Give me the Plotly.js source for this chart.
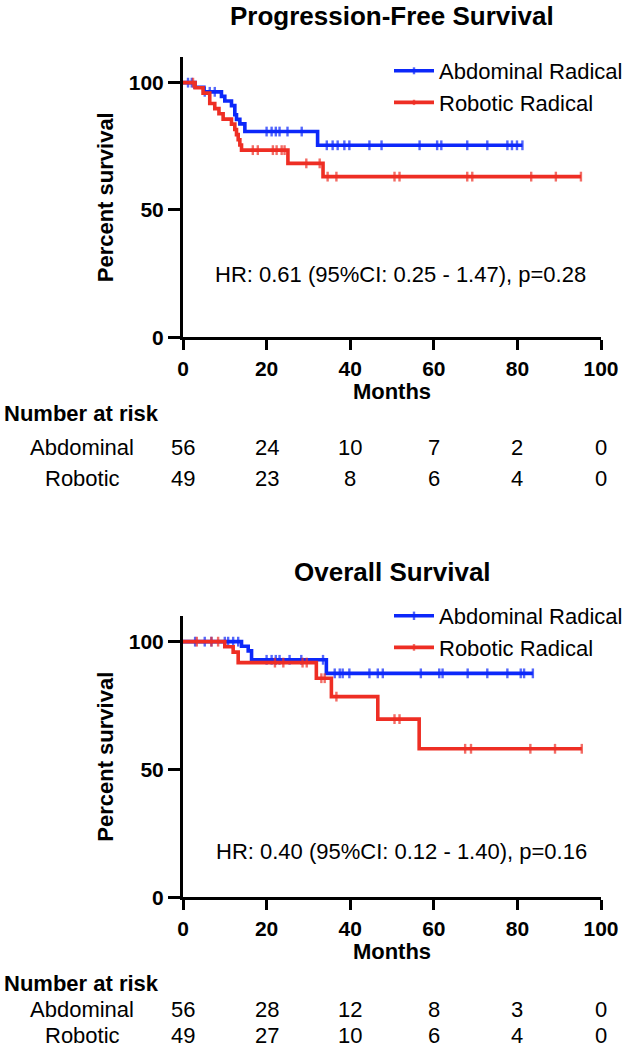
<!DOCTYPE html>
<html>
<head>
<meta charset="utf-8">
<script src="https://cdn.plot.ly/plotly-3.0.1.min.js"></script>
<style>
  body { margin: 0; background: #fff; }
  #graph { width: 631px; height: 1050px; }
</style>
</head>
<body>
<div id="graph"></div>
<script>
var blue = 'rgb(12, 40, 250)';
var red = 'rgb(238, 46, 36)';
var fontFam = 'Liberation Sans, Arial, sans-serif';

// progression-free survival: step times (months) and survival (%) after each step, plus censored times
var pfsAbdTimes = [0, 2.9, 5.0, 9.2, 10.0, 11.6, 12.4, 12.8, 13.6, 14.8, 32.2];
var pfsAbdSurv = [100, 98.2, 96.4, 94.6, 92.8, 91.0, 87.4, 85.6, 83.8, 80.8, 75.4];
var pfsAbdCensor = [1.2, 2.1, 5.2, 6.4, 7.6, 20.0, 21.2, 22.2, 23.1, 25.0, 28.4, 34.4, 35.8, 37.0, 38.6, 39.8,
    44.6, 47.5, 56.6, 60.8, 61.8, 68.0, 72.8, 77.6, 78.7, 79.9, 81.2];
var pfsRobTimes = [0, 2.9, 4.8, 6.4, 7.6, 8.6, 9.6, 11.6, 12.4, 12.8, 13.2, 13.6, 14.0, 25.1, 33.5];
var pfsRobSurv = [100, 98.0, 95.9, 91.8, 89.8, 87.8, 85.7, 83.7, 81.6, 79.6, 77.6, 75.5, 73.5, 68.3, 63.1];
var pfsRobCensor = [2.4, 16.7, 17.9, 21.5, 22.4, 23.6, 24.3, 29.5, 32.7, 34.6, 36.7, 50.6, 51.8, 68.0, 69.2,
    83.3, 89.2, 95.2];

// overall survival
var osAbdTimes = [0, 14.0, 15.6, 16.4, 34.3];
var osAbdSurv = [100, 98.2, 96.4, 92.9, 87.6];
var osAbdCensor = [2.9, 5.2, 6.8, 10.0, 10.8, 12.0, 13.2, 20.0, 21.2, 22.2, 23.1, 25.5, 28.3, 33.5, 36.3, 37.5,
    38.2, 39.8, 44.6, 46.6, 47.8, 56.9, 61.3, 62.1, 68.1, 72.8, 77.6, 80.8, 81.6, 83.7];
var osRobTimes = [0, 10.0, 12.0, 13.2, 31.9, 35.5, 46.6, 56.5];
var osRobSurv = [100, 98.0, 95.9, 91.8, 85.7, 78.5, 69.7, 58.1];
var osRobCensor = [3.3, 6.8, 8.4, 22.0, 24.0, 28.6, 29.6, 33.1, 33.9, 36.7, 50.6, 51.8, 67.5, 68.9, 83.1, 89.0, 95.4];

// number at risk tables
var riskMonths = [0, 20, 40, 60, 80, 100];
var pfsRiskAbd = [56, 24, 10, 7, 2, 0];
var pfsRiskRob = [49, 23, 8, 6, 4, 0];
var osRiskAbd = [56, 28, 12, 8, 3, 0];
var osRiskRob = [49, 27, 10, 6, 4, 0];

var groupNames = ['Abdominal Radical', 'Robotic Radical'];
var rowNames = ['Abdominal', 'Robotic'];
var hrTexts = ['HR: 0.61 (95%CI: 0.25 - 1.47), p=0.28', 'HR: 0.40 (95%CI: 0.12 - 1.40), p=0.16'];
var plotTitles = ['Progression-Free Survival', 'Overall Survival'];

/* builds one Kaplan-Meier step line, censored points get a small vertical tick */
function kmTrace(times, surv, censor, name, color, xa, ya, legend) {
    var pts = [];
    var i, k;
    for (i = 0; i < times.length; i++) {
        pts.push({t: times[i], s: surv[i], c: false});
    }
    for (i = 0; i < censor.length; i++) {
        var lvl = surv[0];
        for (k = 0; k < times.length; k++) {
            if (times[k] <= censor[i]) lvl = surv[k];
        }
        pts.push({t: censor[i], s: lvl, c: true});
    }
    pts.sort(function (a, b) { return a.t - b.t; });
    return {
        x: pts.map(function (p) { return p.t; }),
        y: pts.map(function (p) { return p.s; }),
        xaxis: xa,
        yaxis: ya,
        legend: legend,
        name: name,
        type: 'scatter',
        mode: 'lines+markers',
        line: {shape: 'hv', color: color, width: 3.6},
        marker: {
            symbol: 'line-ns',
            size: pts.map(function (p) { return p.c ? 7 : 0; }),
            color: color,
            line: {color: color, width: 2.4}
        },
        hoverinfo: 'x+y'
    };
}

var data = [
    kmTrace(pfsAbdTimes, pfsAbdSurv, pfsAbdCensor, groupNames[0], blue, 'x', 'y', 'legend'),
    kmTrace(pfsRobTimes, pfsRobSurv, pfsRobCensor, groupNames[1], red, 'x', 'y', 'legend'),
    kmTrace(osAbdTimes, osAbdSurv, osAbdCensor, groupNames[0], blue, 'x2', 'y2', 'legend2'),
    kmTrace(osRobTimes, osRobSurv, osRobCensor, groupNames[1], red, 'x2', 'y2', 'legend2')
];

function py(px) { return 1 - px / 1050; } /* pixel row to paper y */

var tickFont = {family: fontFam, size: 21, color: '#000', weight: 'bold'};
var titleFont = {family: fontFam, size: 22, color: '#000', weight: 'bold'};

function xAxis(anchor) {
    return {
        domain: [183 / 631, 601 / 631],
        anchor: anchor,
        range: [0, 100],
        tickvals: riskMonths,
        ticks: 'outside', ticklen: 10, tickwidth: 3, tickcolor: '#000',
        showline: true, linewidth: 3, linecolor: '#000',
        showgrid: false, zeroline: false,
        tickfont: tickFont,
        title: {text: 'Months', font: titleFont, standoff: 6},
        fixedrange: true
    };
}
function yAxis(anchor, domain) {
    return {
        domain: domain,
        anchor: anchor,
        range: [0, 110],
        tickvals: [0, 50, 100],
        ticks: 'outside', ticklen: 12, tickwidth: 3, tickcolor: '#000',
        showline: true, linewidth: 3, linecolor: '#000',
        showgrid: false, zeroline: false,
        tickfont: tickFont,
        title: {text: 'Percent survival', font: titleFont, standoff: 10},
        fixedrange: true
    };
}

var annotations = [];
function txt(text, x, y, xref, size, bold, xanchor) {
    annotations.push({
        text: text, x: x, y: y, xref: xref, yref: 'paper',
        xanchor: xanchor || 'center', yanchor: 'middle', showarrow: false,
        font: {family: fontFam, size: size, color: '#000', weight: bold ? 'bold' : 'normal'}
    });
}

// titles and hazard ratio notes
txt(plotTitles[0], 392 / 631, py(16), 'paper', 26, true);
txt(plotTitles[1], 392 / 631, py(572), 'paper', 26, true);
txt(hrTexts[0], 400 / 631, py(275), 'paper', 22, false);
txt(hrTexts[1], 401 / 631, py(851), 'paper', 22, false);

// risk tables
var tables = [
    {xref: 'x', rows: [pfsRiskAbd, pfsRiskRob], head: 413, rowY: [447, 478]},
    {xref: 'x2', rows: [osRiskAbd, osRiskRob], head: 983, rowY: [1009, 1035]}
];
tables.forEach(function (tb) {
    txt('Number at risk', 2 / 631, py(tb.head), 'paper', 22, true, 'left');
    tb.rows.forEach(function (row, r) {
        txt(rowNames[r], 82 / 631, py(tb.rowY[r]), 'paper', 22, false);
        for (var i = 0; i < row.length; i++) {
            txt(String(row[i]), riskMonths[i], py(tb.rowY[r]), tb.xref, 22, false);
        }
    });
});

var legendBase = {
    xanchor: 'left', yanchor: 'top',
    font: {family: fontFam, size: 22, color: '#000'},
    bgcolor: 'rgba(0,0,0,0)',
    itemwidth: 40
};

var layout = {
    width: 631,
    height: 1050,
    margin: {l: 0, r: 0, t: 0, b: 0},
    paper_bgcolor: '#fff',
    plot_bgcolor: 'rgba(0,0,0,0)',
    showlegend: true,
    legend: Object.assign({x: 389 / 631, y: py(50)}, legendBase),
    legend2: Object.assign({x: 389 / 631, y: py(595)}, legendBase),
    xaxis: xAxis('y'),
    yaxis: yAxis('x', [py(337.3), py(57.2)]),
    xaxis2: xAxis('y2'),
    yaxis2: yAxis('x2', [py(897.3), py(616.1)]),
    annotations: annotations
};

Plotly.newPlot('graph', data, layout, {displayModeBar: false, staticPlot: true});
</script>
</body>
</html>
